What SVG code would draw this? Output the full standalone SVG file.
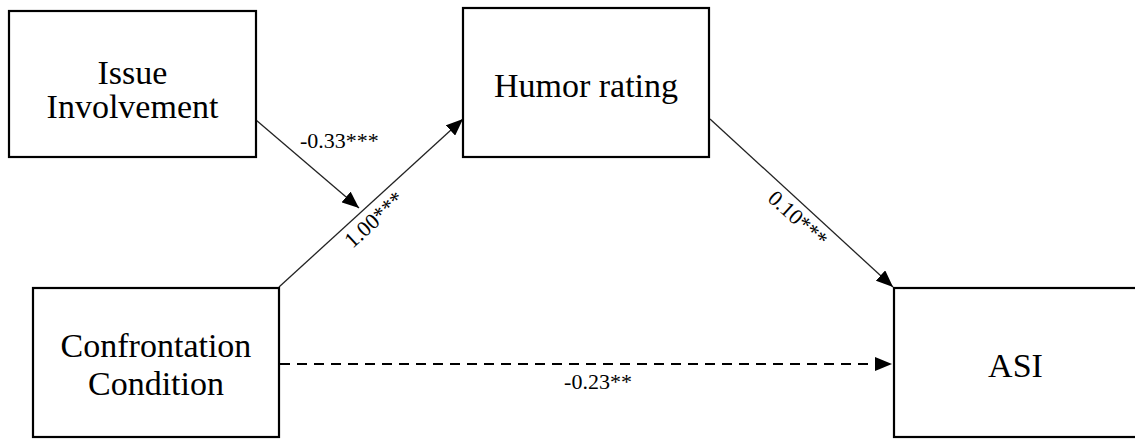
<svg xmlns="http://www.w3.org/2000/svg" width="1135" height="440" viewBox="0 0 1135 440">
  <style>
    .box { fill: #ffffff; stroke: #000000; stroke-width: 2.2; }
    .node-text { font-family: "Liberation Serif", "Times New Roman", serif; font-size: 34px; fill: #000000; text-anchor: middle; }
    .edge { fill: none; stroke: #222222; stroke-width: 1.3; }
    .edge-dashed { fill: none; stroke: #000000; stroke-width: 2; stroke-dasharray: 10 7; }
    .coef { font-family: "Liberation Serif", "Times New Roman", serif; font-size: 22px; fill: #000000; }
  </style>
  <defs>
    <marker id="arrow" markerUnits="userSpaceOnUse" markerWidth="17" markerHeight="14" refX="17" refY="7" orient="auto">
      <path d="M0,0 L17,7 L0,14 z" fill="#000000"/>
    </marker>
  </defs>

  <rect width="1135" height="440" fill="#ffffff"/>

  <!-- paths between the constructs -->
  <g id="connectors">
    <line class="edge" x1="256" y1="120" x2="359" y2="208" marker-end="url(#arrow)"/>
    <line class="edge" x1="279" y1="287" x2="463" y2="119" marker-end="url(#arrow)"/>
    <line class="edge" x1="710" y1="119" x2="893" y2="287" marker-end="url(#arrow)"/>
    <line class="edge-dashed" x1="280" y1="364" x2="892" y2="364" marker-end="url(#arrow)"/>

    <text class="coef" x="300" y="148">-0.33***</text>
    <text class="coef" text-anchor="middle" transform="translate(379,225) rotate(-42.4)">1.00***</text>
    <text class="coef" text-anchor="middle" transform="translate(793,224) rotate(42.4)">0.10***</text>
    <text class="coef" x="598" y="389" text-anchor="middle">-0.23**</text>
  </g>

  <g id="issue-involvement">
    <rect class="box" x="9" y="11" width="247" height="146"/>
    <text class="node-text" x="132.5" y="84">Issue</text>
    <text class="node-text" x="132.5" y="118">Involvement</text>
  </g>

  <g id="humor-rating">
    <rect class="box" x="463" y="8" width="246" height="149"/>
    <text class="node-text" x="586" y="97">Humor rating</text>
  </g>

  <g id="confrontation-condition">
    <rect class="box" x="33" y="288" width="246" height="149"/>
    <text class="node-text" x="156" y="357">Confrontation</text>
    <text class="node-text" x="156" y="395">Condition</text>
  </g>

  <g id="asi">
    <rect class="box" x="894" y="288" width="260" height="149"/>
    <text class="node-text" x="1015.5" y="377">ASI</text>
  </g>
</svg>
